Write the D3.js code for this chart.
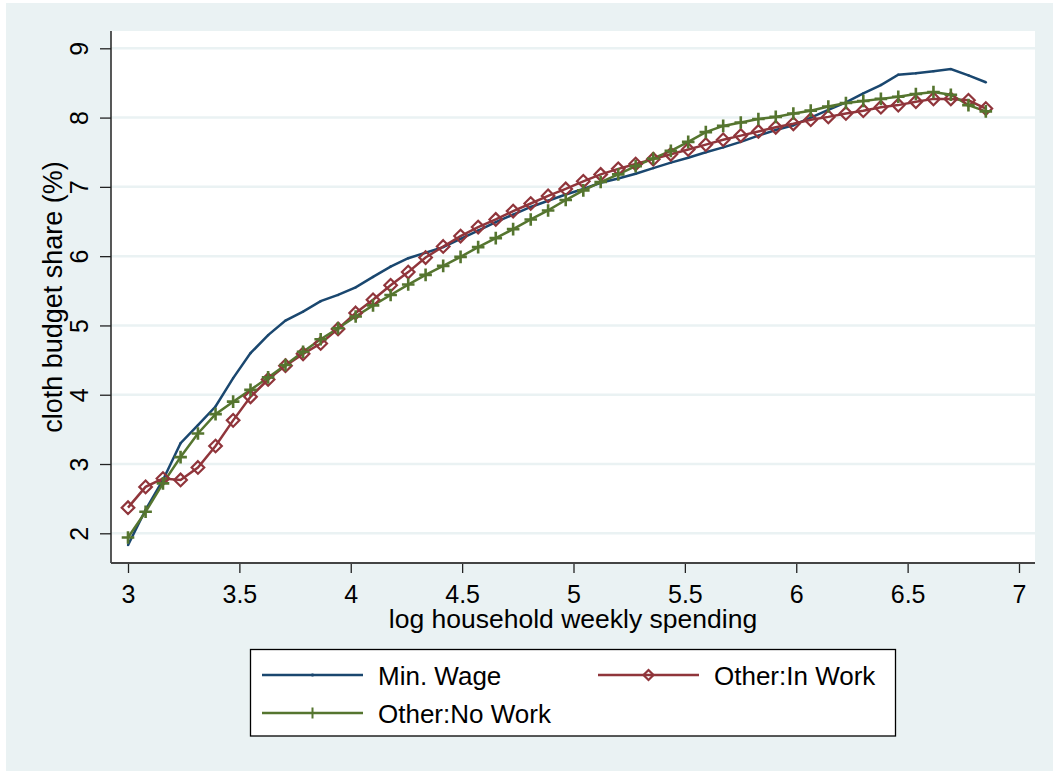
<!DOCTYPE html>
<html>
<head>
<meta charset="utf-8">
<script src="https://cdn.jsdelivr.net/npm/d3@7"></script>
<style>
  body { margin: 0; background: #ffffff; }
  svg text { font-family: "Liberation Sans", Arial, sans-serif; fill: #000; }
</style>
</head>
<body>
<div id="chart"></div>
<script>

// x grid: log household weekly spending
var spending = [3.000, 3.079, 3.157, 3.236, 3.314, 3.393, 3.472, 3.550, 3.629, 3.707,
                3.786, 3.865, 3.943, 4.022, 4.100, 4.179, 4.258, 4.336, 4.415, 4.493,
                4.572, 4.651, 4.729, 4.808, 4.886, 4.965, 5.044, 5.122, 5.201, 5.279,
                5.358, 5.437, 5.515, 5.594, 5.672, 5.751, 5.830, 5.908, 5.987, 6.065,
                6.144, 6.223, 6.301, 6.380, 6.458, 6.537, 6.616, 6.694, 6.773, 6.851];

var minWage = [1.83, 2.34, 2.77, 3.30, 3.56, 3.83, 4.24, 4.60, 4.86, 5.07,
               5.20, 5.35, 5.44, 5.55, 5.70, 5.85, 5.97, 6.05, 6.13, 6.25,
               6.37, 6.49, 6.60, 6.71, 6.80, 6.89, 6.97, 7.06, 7.12, 7.19,
               7.27, 7.35, 7.42, 7.50, 7.57, 7.65, 7.74, 7.82, 7.89, 8.00,
               8.11, 8.22, 8.35, 8.47, 8.62, 8.64, 8.67, 8.70, 8.61, 8.51];

var inWork = [2.37, 2.67, 2.79, 2.77, 2.95, 3.26, 3.63, 3.97, 4.22, 4.42,
              4.59, 4.74, 4.95, 5.18, 5.37, 5.58, 5.77, 5.98, 6.14, 6.29,
              6.42, 6.53, 6.65, 6.76, 6.87, 6.97, 7.08, 7.18, 7.26, 7.33,
              7.40, 7.47, 7.54, 7.61, 7.68, 7.74, 7.80, 7.86, 7.91, 7.97,
              8.01, 8.06, 8.10, 8.15, 8.18, 8.23, 8.27, 8.27, 8.25, 8.13];

var noWork = [1.94, 2.31, 2.72, 3.10, 3.44, 3.72, 3.90, 4.07, 4.25, 4.43,
              4.62, 4.80, 4.96, 5.13, 5.29, 5.44, 5.59, 5.73, 5.86, 5.99,
              6.13, 6.26, 6.39, 6.53, 6.66, 6.81, 6.95, 7.07, 7.18, 7.30,
              7.41, 7.52, 7.65, 7.79, 7.88, 7.93, 7.98, 8.01, 8.06, 8.10,
              8.16, 8.21, 8.24, 8.27, 8.30, 8.34, 8.37, 8.33, 8.18, 8.09];

var xTicks = [3, 3.5, 4, 4.5, 5, 5.5, 6, 6.5, 7];
var yTicks = [2, 3, 4, 5, 6, 7, 8, 9];
var seriesNames = ["Min. Wage", "Other:In Work", "Other:No Work"];

var navy = "#1a476f", maroon = "#90353b", green = "#55752f";

var W = 1053, H = 771;
var plot = {left: 111, right: 1035, top: 31, bottom: 563};

var svg = d3.select("#chart")
  .append("svg")
    .attr("width", W)
    .attr("height", H);

// graph region
svg.append("rect")
  .attr("x", 6).attr("y", 3)
  .attr("width", W - 6).attr("height", H - 3)
  .attr("fill", "#eaf2f3");

// plot region
svg.append("rect")
  .attr("x", plot.left).attr("y", plot.top)
  .attr("width", plot.right - plot.left).attr("height", plot.bottom - plot.top)
  .attr("fill", "#ffffff");

var x = d3.scaleLinear().domain([3, 7]).range([128, 1019]);
var y = d3.scaleLinear().domain([2, 9]).range([533.3, 48.3]);

// gridlines
svg.selectAll("grid")
  .data(yTicks)
  .enter()
  .append("line")
    .attr("x1", plot.left).attr("x2", plot.right)
    .attr("y1", function(d) { return y(d); })
    .attr("y2", function(d) { return y(d); })
    .attr("stroke", "#eaf2f3")
    .attr("stroke-width", 2.5);

// y axis
var gy = svg.append("g")
  .attr("transform", "translate(" + plot.left + ",0)")
  .call(d3.axisLeft(y).tickValues(yTicks).tickSize(11).tickFormat(d3.format("d")));
gy.select(".domain").remove();
gy.selectAll(".tick line").attr("stroke", "#222").attr("stroke-width", 1.3);
gy.selectAll(".tick text")
  .attr("x", null).attr("dy", null)
  .attr("text-anchor", "middle")
  .attr("transform", "translate(-23,0) rotate(-90)")
  .style("font-size", "25px")
  .attr("fill", "#000");

// x axis
var gx = svg.append("g")
  .attr("transform", "translate(0," + plot.bottom + ")")
  .call(d3.axisBottom(x).tickValues(xTicks).tickSize(10).tickFormat(d3.format("")));
gx.select(".domain").remove();
gx.selectAll(".tick line").attr("stroke", "#222").attr("stroke-width", 1.3);
gx.selectAll(".tick text")
  .attr("y", 40).attr("dy", null)
  .style("font-size", "25px")
  .attr("fill", "#000");

// axis lines
svg.append("line")
  .attr("x1", plot.left).attr("x2", plot.left)
  .attr("y1", plot.top).attr("y2", plot.bottom)
  .attr("stroke", "#222").attr("stroke-width", 1.5);
svg.append("line")
  .attr("x1", plot.left).attr("x2", plot.right)
  .attr("y1", plot.bottom).attr("y2", plot.bottom)
  .attr("stroke", "#444").attr("stroke-width", 2);

// axis titles
svg.append("text")
  .attr("x", 573).attr("y", 628)
  .attr("text-anchor", "middle")
  .style("font-size", "26.5px")
  .text("log household weekly spending");
svg.append("text")
  .attr("transform", "translate(62,297) rotate(-90)")
  .attr("text-anchor", "middle")
  .style("font-size", "27px")
  .text("cloth budget share (%)");

var line = d3.line()
  .x(function(d) { return x(d[0]); })
  .y(function(d) { return y(d[1]); });

function pairs(vals) {
  return spending.map(function(s, i) { return [s, vals[i]]; });
}

function diamond(sel, r) {
  sel.attr("d", "M0," + (-r) + "L" + r + ",0L0," + r + "L" + (-r) + ",0Z")
    .attr("fill", "none")
    .attr("stroke", maroon)
    .attr("stroke-width", 2.2);
}
function plus(sel, r) {
  sel.attr("d", "M" + (-r) + ",0H" + r + "M0," + (-r) + "V" + r)
    .attr("fill", "none")
    .attr("stroke", green)
    .attr("stroke-width", 2.6);
}

// Min. Wage
svg.append("path")
  .datum(pairs(minWage))
  .attr("d", line)
  .attr("fill", "none").attr("stroke", navy).attr("stroke-width", 2.5);
svg.selectAll("mwdot")
  .data(pairs(minWage))
  .enter()
  .append("circle")
    .attr("cx", function(d) { return x(d[0]); })
    .attr("cy", function(d) { return y(d[1]); })
    .attr("r", 1.2)
    .attr("fill", navy);

// Other:In Work
svg.append("path")
  .datum(pairs(inWork))
  .attr("d", line)
  .attr("fill", "none").attr("stroke", maroon).attr("stroke-width", 2.5);

// Other:No Work
svg.append("path")
  .datum(pairs(noWork))
  .attr("d", line)
  .attr("fill", "none").attr("stroke", green).attr("stroke-width", 2.5);

svg.selectAll("inmark")
  .data(pairs(inWork))
  .enter()
  .append("path")
    .attr("transform", function(d) { return "translate(" + x(d[0]) + "," + y(d[1]) + ")"; })
    .call(diamond, 6.3);

svg.selectAll("nomark")
  .data(pairs(noWork))
  .enter()
  .append("path")
    .attr("transform", function(d) { return "translate(" + x(d[0]) + "," + y(d[1]) + ")"; })
    .call(plus, 6.3);

// legend
var legend = svg.append("g");
legend.append("rect")
  .attr("x", 250.5).attr("y", 649.5)
  .attr("width", 645).attr("height", 86.5)
  .attr("fill", "#ffffff")
  .attr("stroke", "#000").attr("stroke-width", 1.3);

var legendItems = [
  {name: seriesNames[0], color: navy,   x0: 262, ly: 675, kind: "dot"},
  {name: seriesNames[1], color: maroon, x0: 598, ly: 675, kind: "diamond"},
  {name: seriesNames[2], color: green,  x0: 262, ly: 713, kind: "plus"}
];

legendItems.forEach(function(it) {
  legend.append("line")
    .attr("x1", it.x0).attr("x2", it.x0 + 101)
    .attr("y1", it.ly).attr("y2", it.ly)
    .attr("stroke", it.color).attr("stroke-width", 2.5);
  var m = legend.append("path")
    .attr("transform", "translate(" + (it.x0 + 50.5) + "," + it.ly + ")");
  if (it.kind == "diamond") m.call(diamond, 5);
  else if (it.kind == "plus") m.call(plus, 5.5).attr("stroke-width", 2);
  else m.attr("d", "M-1,0H1").attr("stroke", it.color).attr("stroke-width", 3);
  legend.append("text")
    .attr("x", it.x0 + 116).attr("y", it.ly + 10)
    .style("font-size", "26px")
    .text(it.name);
});

</script>
</body>
</html>
